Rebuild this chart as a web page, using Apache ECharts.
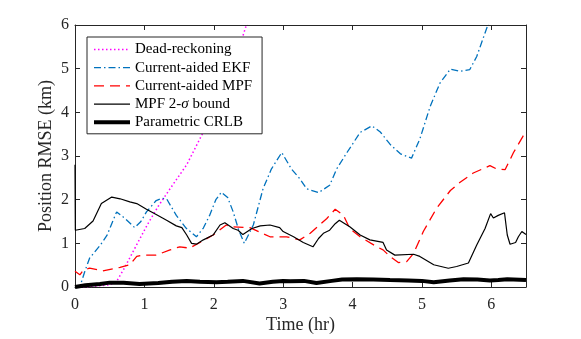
<!DOCTYPE html>
<html><head><meta charset="utf-8">
<script src="https://cdn.jsdelivr.net/npm/echarts@6/dist/echarts.min.js"></script>
<style>html,body{margin:0;padding:0;background:#fff}#c{width:581px;height:339px}</style>
</head><body><div id="c"></div>
<script>
const seriesNames = ['Dead-reckoning', 'Current-aided EKF', 'Current-aided MPF', 'MPF 2-σ bound', 'Parametric CRLB'];
const xTicks = [0, 1, 2, 3, 4, 5, 6];
const yTicks = [0, 1, 2, 3, 4, 5, 6];

const tDR = [0, 0.1, 0.3, 0.5, 0.6, 0.7, 0.84, 1.04, 1.2, 1.37, 1.61, 1.85, 2.1, 2.3, 2.46, 2.55];
const vDR = [0, 0, 0.02, 0.05, 0.13, 0.4, 0.82, 1.42, 1.85, 2.25, 2.8, 3.55, 4.4, 5.15, 5.95, 6.4];

const tEKF = [0, 0.07, 0.14, 0.21, 0.36, 0.46, 0.6, 0.72, 0.86, 0.95, 1.03, 1.17, 1.25, 1.32, 1.46, 1.6, 1.75, 1.85, 1.94, 2.03, 2.11, 2.2, 2.28, 2.36, 2.44, 2.57, 2.71, 2.83, 2.98, 3.12, 3.24, 3.34, 3.51, 3.67, 3.77, 3.92, 4.11, 4.28, 4.4, 4.54, 4.69, 4.85, 4.97, 5.12, 5.26, 5.41, 5.55, 5.69, 5.79, 5.89, 5.95, 6.05];
const vEKF = [0, 0, 0.35, 0.66, 0.95, 1.18, 1.72, 1.57, 1.36, 1.5, 1.72, 1.98, 2.03, 2.02, 1.64, 1.35, 1.15, 1.35, 1.64, 2.0, 2.17, 2.05, 1.72, 1.3, 1.0, 1.42, 2.25, 2.7, 3.08, 2.7, 2.48, 2.25, 2.16, 2.33, 2.7, 3.08, 3.54, 3.69, 3.55, 3.27, 3.05, 2.95, 3.39, 4.14, 4.67, 4.99, 4.94, 4.98, 5.28, 5.73, 6.0, 6.4];

const tMPF = [0, 0.07, 0.12, 0.21, 0.4, 0.65, 0.79, 0.89, 0.98, 1.17, 1.37, 1.51, 1.65, 1.8, 1.99, 2.18, 2.23, 2.52, 2.81, 3.05, 3.24, 3.39, 3.63, 3.75, 3.87, 3.96, 4.11, 4.35, 4.44, 4.54, 4.66, 4.78, 4.88, 5.02, 5.21, 5.41, 5.55, 5.74, 5.98, 6.08, 6.2, 6.32, 6.46, 6.5];
const vMPF = [0.36, 0.28, 0.39, 0.43, 0.37, 0.45, 0.51, 0.70, 0.73, 0.73, 0.85, 0.92, 0.89, 1.02, 1.19, 1.42, 1.38, 1.36, 1.15, 1.15, 1.08, 1.23, 1.57, 1.78, 1.64, 1.34, 1.15, 0.92, 0.85, 0.70, 0.56, 0.58, 0.77, 1.27, 1.80, 2.21, 2.40, 2.61, 2.78, 2.70, 2.69, 3.08, 3.46, 3.5];

const tBound = [0, 0.005, 0.03, 0.14, 0.26, 0.38, 0.53, 0.65, 0.79, 0.89, 1.03, 1.17, 1.32, 1.46, 1.54, 1.61, 1.68, 1.75, 1.85, 1.99, 2.09, 2.16, 2.28, 2.35, 2.42, 2.55, 2.67, 2.81, 2.95, 3.0, 3.15, 3.29, 3.43, 3.51, 3.58, 3.67, 3.75, 3.81, 3.89, 3.96, 4.11, 4.25, 4.44, 4.49, 4.61, 4.88, 4.97, 5.17, 5.38, 5.5, 5.67, 5.79, 5.91, 5.99, 6.03, 6.1, 6.19, 6.23, 6.27, 6.35, 6.39, 6.44, 6.5];
const vBound = [2.8, 1.3, 1.27, 1.34, 1.51, 1.91, 2.06, 2.02, 1.95, 1.91, 1.78, 1.66, 1.53, 1.40, 1.36, 1.19, 1.0, 0.98, 1.08, 1.19, 1.42, 1.47, 1.34, 1.30, 1.20, 1.34, 1.40, 1.42, 1.36, 1.27, 1.15, 1.02, 0.92, 1.11, 1.23, 1.30, 1.45, 1.53, 1.45, 1.38, 1.19, 1.08, 1.02, 0.85, 0.73, 0.75, 0.70, 0.51, 0.43, 0.47, 0.55, 0.96, 1.34, 1.68, 1.58, 1.64, 1.70, 1.19, 0.98, 1.02, 1.15, 1.27, 1.20];

const tCRLB = [0, 0.15, 0.36, 0.5, 0.7, 0.93, 1.2, 1.4, 1.61, 1.8, 2.04, 2.2, 2.42, 2.66, 2.85, 3.0, 3.1, 3.3, 3.48, 3.7, 3.85, 4.06, 4.3, 4.54, 4.8, 5.0, 5.17, 5.4, 5.6, 5.8, 5.98, 6.1, 6.23, 6.5];
const vCRLB = [0, 0.04, 0.07, 0.1, 0.1, 0.07, 0.09, 0.12, 0.14, 0.12, 0.11, 0.12, 0.14, 0.08, 0.12, 0.14, 0.13, 0.14, 0.09, 0.14, 0.17, 0.18, 0.17, 0.16, 0.15, 0.14, 0.11, 0.15, 0.18, 0.17, 0.15, 0.16, 0.18, 0.16];

const zip = (t, v) => t.map((x, i) => [x, v[i]]);
const FONT = 'Liberation Serif';
const AX = '#262626';

const chart = echarts.init(document.getElementById('c'), null, {renderer: 'canvas'});
const baseAxis = {
  axisLine: {show: true, onZero: false, lineStyle: {color: AX, width: 1}},
  axisTick: {show: true, inside: true, length: 5, lineStyle: {color: AX}},
  splitLine: {show: false},
  axisLabel: {color: AX, fontFamily: FONT, fontSize: 16},
  nameTextStyle: {color: AX, fontFamily: FONT, fontSize: 18}
};
const mk = (name, data, color, width, type) => ({
  name, type: 'line', data, symbol: 'none', showSymbol: false, clip: true,
  xAxisIndex: 0, yAxisIndex: 0, animation: false,
  lineStyle: {color, width, type}, itemStyle: {color}
});
chart.setOption({
  animation: false,
  grid: {left: 75, right: 55, top: 25, bottom: 50, containLabel: false},
  legend: {
    orient: 'vertical', left: 87, top: 37,
    data: seriesNames.map((n, i) => i === 4 ? {name: n, lineStyle: {width: 4}} : {name: n, lineStyle: {width: i === 3 ? 1.2 : (i === 0 ? 1.5 : 1.3)}}),
    backgroundColor: '#fff', borderColor: AX, borderWidth: 1, borderRadius: 0,
    padding: [5, 10, 4, 5], itemWidth: 36, itemHeight: 14, itemGap: 3.2,
    itemStyle: {opacity: 0, borderWidth: 0},
    textStyle: {fontFamily: FONT, fontSize: 15, color: '#000',
      rich: {i: {fontFamily: FONT, fontSize: 15, fontStyle: 'italic', color: '#000'}}},
    formatter: n => n.replace('σ', '{i|σ}')
  },
  xAxis: [
    Object.assign({}, baseAxis, {type: 'value', min: 0, max: 6.5, interval: 1, position: 'bottom',
      name: 'Time (hr)', nameLocation: 'middle', nameGap: 29, nameMoveOverlap: false,
      axisLabel: Object.assign({}, baseAxis.axisLabel, {margin: 10,
        formatter: v => xTicks.includes(v) ? String(v) : ''})}),
    Object.assign({}, baseAxis, {type: 'value', min: 0, max: 6.5, interval: 1, position: 'top',
      axisLabel: {show: false}})
  ],
  yAxis: [
    Object.assign({}, baseAxis, {type: 'value', min: 0, max: 6, interval: 1, position: 'left',
      name: 'Position RMSE (km)', nameLocation: 'middle', nameGap: 20, nameMoveOverlap: false,
      axisLabel: Object.assign({}, baseAxis.axisLabel, {margin: 6,
        formatter: v => yTicks.includes(v) ? String(v) : ''})}),
    Object.assign({}, baseAxis, {type: 'value', min: 0, max: 6, interval: 1, position: 'right',
      axisLabel: {show: false}})
  ],
  series: [
    mk(seriesNames[0], zip(tDR, vDR), '#FF00FF', 1.5, [1.5, 2.5]),
    mk(seriesNames[1], zip(tEKF, vEKF), '#0072BD', 1.3, [7, 3, 1.5, 3]),
    mk(seriesNames[2], zip(tMPF, vMPF), '#FF0000', 1.3, [10, 6]),
    mk(seriesNames[3], zip(tBound, vBound), '#000000', 1.2, 'solid'),
    mk(seriesNames[4], zip(tCRLB, vCRLB), '#000000', 4, 'solid')
  ]
});
</script></body></html>
